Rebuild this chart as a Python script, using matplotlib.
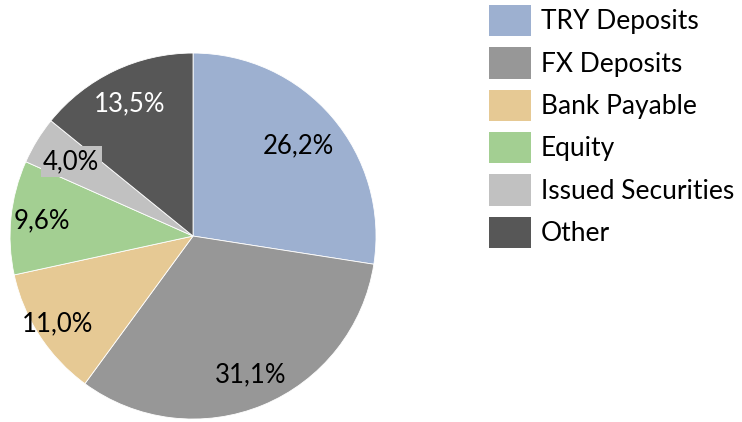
import matplotlib
matplotlib.use("Agg")
import matplotlib.pyplot as plt
import numpy as np

plt.rcParams['font.family'] = ['Lato', 'DejaVu Sans']

# data
labels = ['TRY Deposits', 'FX Deposits', 'Bank Payable', 'Equity', 'Issued Securities', 'Other']
shares = [26.2, 31.1, 11.0, 9.6, 4.0, 13.5]
pct_text = ['26,2%', '31,1%', '11,0%', '9,6%', '4,0%', '13,5%']
colors = ['#9DB0D0', '#979797', '#E6C994', '#A3CF92', '#C1C1C1', '#575757']
text_colors = ['black', 'black', 'black', 'black', 'black', 'white']
label_r = [0.76, 0.82, 0.88, 0.83, 0.78, 0.80]

fig = plt.figure(figsize=(7.42, 4.22), dpi=100)
ax = fig.add_axes([0.0135, 0.007, 0.4933, 0.8673])

wedges, _ = ax.pie(shares, colors=colors, startangle=90, counterclock=False,
                   wedgeprops=dict(linewidth=0.6, edgecolor='white'))
ax.set_xlim(-1, 1)
ax.set_ylim(-1, 1)
ax.set_aspect('equal')

for w, t, c, r in zip(wedges, pct_text, text_colors, label_r):
    mid = np.deg2rad((w.theta1 + w.theta2) / 2)
    x, y = r * np.cos(mid), r * np.sin(mid)
    kw = {}
    if t == '4,0%':
        kw['bbox'] = dict(boxstyle='square,pad=0.1', fc=w.get_facecolor(), ec='none')
    ax.text(x, y, t, ha='center', va='center', fontsize=18.5, color=c, **kw)

leg = fig.legend(wedges, labels, loc='upper left', bbox_to_anchor=(0.655, 0.995),
                 frameon=False, fontsize=19, handlelength=1.59, handleheight=1.45,
                 labelspacing=0.42, handletextpad=0.38, borderaxespad=0, borderpad=0.1)
for p in leg.get_patches():
    p.set_edgecolor('none')

fig.savefig('out.png', dpi=100)
